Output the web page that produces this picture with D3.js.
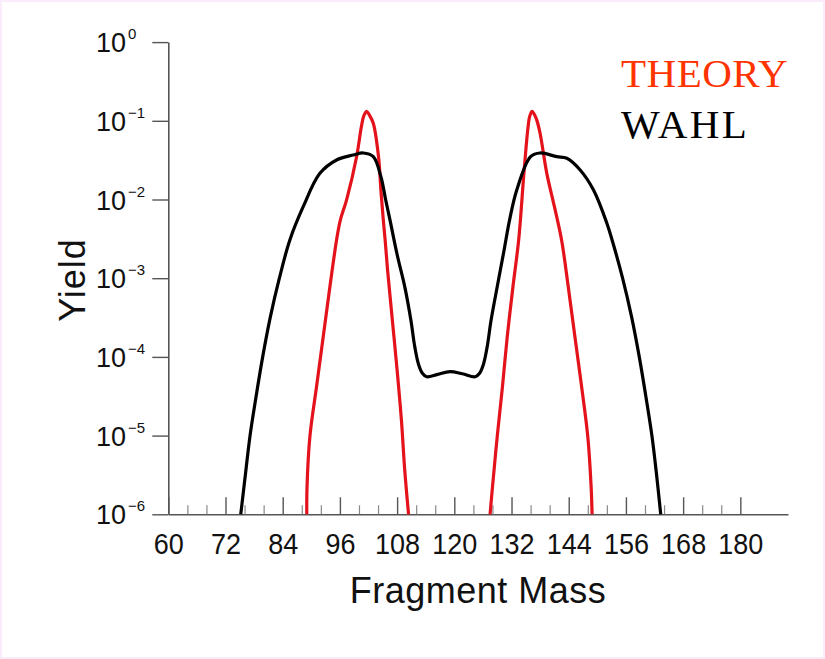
<!DOCTYPE html>
<html>
<head>
<meta charset="utf-8">
<script src="https://cdn.jsdelivr.net/npm/d3@7"></script>
<style>
  html, body { margin: 0; padding: 0; background: #fbecfb; }
  svg { display: block; position: absolute; left: 2px; top: 2px; background: #fff; }
</style>
</head>
<body>
<script>
// ---- data ----
const xMajorTicks = [60, 72, 84, 96, 108, 120, 132, 144, 156, 168, 180];
const xMinorTicks = [64, 68, 76, 80, 88, 92, 100, 104, 112, 116, 124, 128, 136, 140, 148, 152, 160, 164, 172, 176];
const yExponents = [0, -1, -2, -3, -4, -5, -6];

// THEORY (red) : [fragment mass, yield]
const theoryMass = [89.05, 89.1, 89.7, 91.1, 92.5, 93.9, 95.3, 96.1, 97.4, 99.5, 100.5, 101.0, 101.6, 102.2, 103.0, 104.1, 104.6, 105.1, 105.5, 106.0, 107.0, 108.0, 108.9, 109.6, 110.4];
const theoryYield = [1e-6, 2.2e-6, 9.7e-6, 4.2e-5, 1.8e-4, 7.8e-4, 3.06e-3, 5.5e-3, 9.9e-3, 0.035, 0.084, 0.115, 0.132, 0.118, 0.093, 0.035, 0.0132, 0.0055, 0.003, 1.27e-3, 2.94e-4, 6.8e-5, 1.58e-5, 3.65e-6, 1e-6];
const theoryMass2 = [127.5, 128.0, 129.0, 130.1, 131.1, 132.3, 133.5, 134.6, 135.4, 135.8, 136.3, 136.8, 137.3, 138.0, 139.4, 141.0, 142.5, 143.9, 145.3, 146.7, 148.0, 148.7, 148.9];
const theoryYield2 = [1e-6, 2.2e-6, 9.7e-6, 4.2e-5, 1.8e-4, 7.8e-4, 3.06e-3, 0.0215, 0.076, 0.113, 0.132, 0.12, 0.102, 0.069, 0.0215, 0.0081, 3.06e-3, 7.8e-4, 1.8e-4, 4.2e-5, 9.7e-6, 2.24e-6, 1e-6];

// WAHL (black)
const wahlMass = [75.2, 76.2, 77.15, 78.4, 79.8, 81.4, 83.3, 85.5, 88.3, 91.8, 95.3, 98.8, 100.9, 103.0, 104.6, 105.6, 106.5, 108.0, 109.6, 110.9, 111.7, 112.5, 113.3, 114.2, 116.5, 119.1, 121.7, 124.4, 125.3, 126.1, 126.9, 127.7, 129.0, 130.4, 131.6, 133.1, 136.0, 138.0, 141.5, 143.6, 146.4, 149.2, 152.0, 153.1, 155.3, 157.2, 158.8, 160.2, 161.45, 162.4, 163.3];
const wahlYield = [1e-6, 3.3e-6, 1e-5, 3.1e-5, 1e-4, 3.2e-4, 1e-3, 3.06e-3, 8.1e-3, 0.0215, 0.0318, 0.0367, 0.039, 0.035, 0.0195, 0.0099, 0.0055, 0.002, 7.8e-4, 2.9e-4, 1.35e-4, 8e-5, 6.2e-5, 5.6e-5, 6.0e-5, 6.5e-5, 6.1e-5, 5.6e-5, 6.2e-5, 8e-5, 1.35e-4, 2.9e-4, 7.8e-4, 2.2e-3, 5.5e-3, 0.0132, 0.035, 0.039, 0.035, 0.0334, 0.0237, 0.0132, 0.005, 3.06e-3, 1e-3, 3.2e-4, 1e-4, 3.1e-5, 1e-5, 3.3e-6, 1e-6];

const legendLabels = ["THEORY", "WAHL"];
const legendColors = ["#ff3300", "#000000"];

// ---- layout ----
const W = 821, H = 655;
const svg = d3.select("body").append("svg").attr("width", W).attr("height", H);
const g = svg.append("g").attr("transform", "translate(-2,-2)");

const x = d3.scaleLinear().domain([60, 190]).range([168.3, 788]);
const y = d3.scaleLog().domain([1e-6, 1]).range([514.3, 42.1]);

const sansFont = "'Liberation Sans', Arial, sans-serif";
const axisColor = "#555";

// X axis: major ticks (inward, upward)
const xAxisMajor = d3.axisBottom(x).tickValues(xMajorTicks).tickSizeInner(-17).tickSizeOuter(0).tickPadding(18).tickFormat(d3.format("d"));
const gx = g.append("g").attr("transform", `translate(0,${y(1e-6)})`).call(xAxisMajor);
gx.select(".domain").attr("stroke", axisColor).attr("stroke-width", 1.6);
gx.selectAll(".tick line").attr("stroke", axisColor).attr("stroke-width", 1.4);
gx.selectAll(".tick text").attr("font-family", sansFont).attr("font-size", 27).attr("fill", "#111")
  .attr("transform", "scale(1,1.06)");

const xAxisMinor = d3.axisBottom(x).tickValues(xMinorTicks).tickSizeInner(-9).tickSizeOuter(0).tickFormat("");
const gxm = g.append("g").attr("transform", `translate(0,${y(1e-6)})`).call(xAxisMinor);
gxm.select(".domain").remove();
gxm.selectAll(".tick line").attr("stroke", "#888").attr("stroke-width", 1.2);

// Y axis
const yTickVals = yExponents.map(e => Math.pow(10, e));
const yAxis = d3.axisLeft(y).tickValues(yTickVals).tickSizeInner(16).tickSizeOuter(0).tickFormat("");
const gy = g.append("g").attr("transform", `translate(${x(60)},0)`).call(yAxis);
gy.select(".domain").attr("stroke", axisColor).attr("stroke-width", 1.6);
gy.selectAll(".tick line").attr("stroke", axisColor).attr("stroke-width", 1.4);

const ylab = g.append("g");
yExponents.forEach(e => {
  const yy = y(Math.pow(10, e));
  ylab.append("text")
    .attr("x", 126).attr("y", yy + 10)
    .attr("text-anchor", "end")
    .attr("font-family", sansFont).attr("font-size", 27).attr("fill", "#111")
    .text("10");
  ylab.append("text")
    .attr("x", 128).attr("y", yy - 3)
    .attr("font-family", sansFont).attr("font-size", 15).attr("fill", "#111")
    .text(e === 0 ? "0" : "\u2212" + Math.abs(e));
});

// Axis titles
g.append("text").attr("x", 478).attr("y", 603)
  .attr("text-anchor", "middle").attr("font-family", sansFont).attr("font-size", 36).attr("fill", "#111")
  .attr("letter-spacing", 0.5)
  .text("Fragment Mass");
g.append("text").attr("transform", "translate(85,280) rotate(-90)")
  .attr("text-anchor", "middle").attr("font-family", sansFont).attr("font-size", 36).attr("fill", "#111")
  .attr("letter-spacing", 1)
  .text("Yield");

// Curves
const line = d3.line().x(d => x(d[0])).y(d => y(d[1])).curve(d3.curveCatmullRom.alpha(0.5));
const theory1 = d3.zip(theoryMass, theoryYield);
const theory2 = d3.zip(theoryMass2, theoryYield2);
const wahl = d3.zip(wahlMass, wahlYield);

[theory1, theory2].forEach(pts => {
  g.append("path").datum(pts).attr("d", line)
    .attr("fill", "none").attr("stroke", "#e3121b").attr("stroke-width", 3.2)
    .attr("stroke-linejoin", "round");
});
g.append("path").datum(wahl).attr("d", line)
  .attr("fill", "none").attr("stroke", "#000").attr("stroke-width", 3.2)
  .attr("stroke-linejoin", "round");

// Legend
const legendSpacing = [0.5, 2.5];
legendLabels.forEach((t, i) => {
  g.append("text").attr("x", 621).attr("y", 87 + i * 51)
    .attr("font-family", "'Liberation Serif', 'Times New Roman', serif").attr("font-size", 41)
    .attr("letter-spacing", legendSpacing[i])
    .attr("fill", legendColors[i]).text(t);
});
</script>
</body>
</html>
